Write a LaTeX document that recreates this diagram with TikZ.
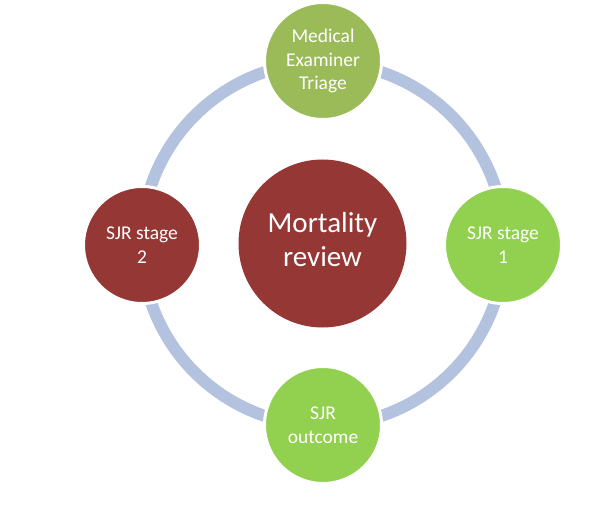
\documentclass[tikz,border=0pt]{standalone}
\usepackage{fontspec}
\setmainfont{Carlito}
\definecolor{ringblue}{HTML}{B3C2DE}
\definecolor{olivegreen}{HTML}{9BBB59}
\definecolor{lightgreen}{HTML}{92D050}
\definecolor{darkred}{HTML}{953735}
\begin{document}
\begin{tikzpicture}[x=1pt,y=-1pt,
  bubble/.style={circle,minimum size=117pt,inner sep=0pt,draw=white,line width=3pt,
    text=white,align=center,font=\fontsize{19.5}{23.5}\selectfont},
  bigbubble/.style={circle,minimum size=168pt,inner sep=0pt,fill=darkred},
  bigtext/.style={text=white,align=center,font=\fontsize{29}{35}\selectfont},
  ring/.style={draw=ringblue,line width=12pt}]
\useasboundingbox (0,0) rectangle (600,513);
\coordinate (ringc) at (323,244);
\draw[ring] (ringc) circle (181.5);
\node[bigbubble] (mort) at (322.5,243.5) {};
\node[bigtext] (mortlbl) at (322.5,240) {Mortality\\[-1pt]review};
\node[bubble,fill=olivegreen] (mex) at (323,61) {Medical\\Examiner\\Triage};
\node[bubble,fill=lightgreen] (s1) at (503,245) {SJR stage\\1};
\node[bubble,fill=lightgreen] (out) at (323,425) {SJR\\outcome};
\node[bubble,fill=darkred] (s2) at (142,245) {SJR stage\\2};
\end{tikzpicture}
\end{document}
